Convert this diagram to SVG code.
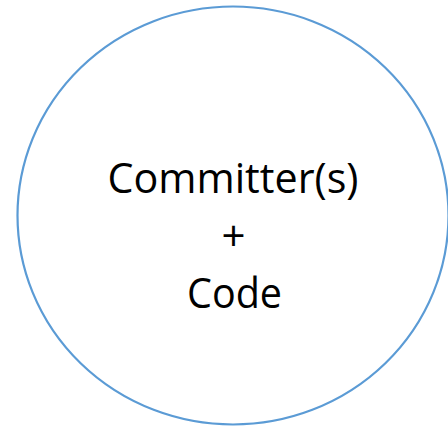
<svg xmlns="http://www.w3.org/2000/svg" width="448" height="426" viewBox="0 0 448 426">
<style>
.lbl{font-family:"Open Sans","Liberation Sans",sans-serif;font-size:42px;fill:#000;text-anchor:middle}
</style>
<rect width="448" height="426" fill="#fff"/>
<g id="node-main">
<ellipse cx="233" cy="215.5" rx="215.5" ry="209" fill="none" stroke="#5B9BD5" stroke-width="2.2"/>
<text class="lbl" x="233" y="193" textLength="251" lengthAdjust="spacingAndGlyphs">Committer(s)</text>
<text class="lbl" x="233.5" y="250.5">+</text>
<text class="lbl" x="234.5" y="308" textLength="95" lengthAdjust="spacingAndGlyphs">Code</text>
</g>
<g id="connectors"></g>
</svg>
